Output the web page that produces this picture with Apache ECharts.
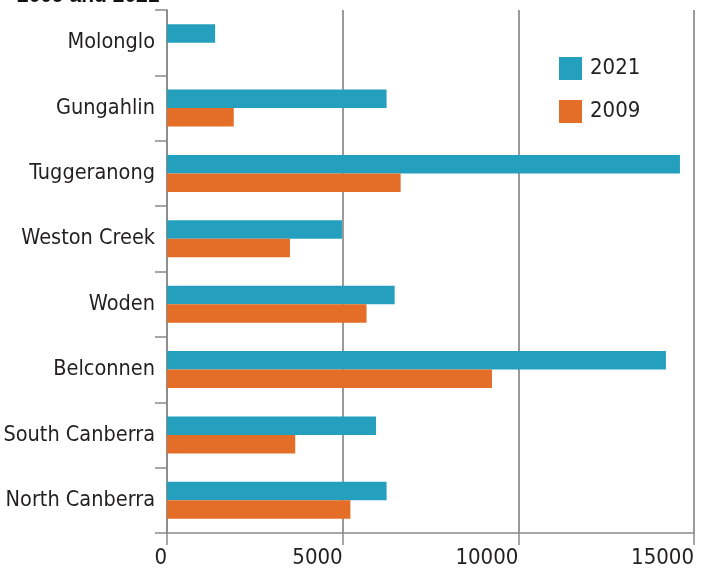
<!DOCTYPE html>
<html lang="en">

<head>
    <meta charset="UTF-8">
    <title>Districts 2009 and 2021</title>
    <script src="https://cdn.jsdelivr.net/npm/echarts@6/dist/echarts.min.js"></script>
    <style>
        body { margin: 0; background: #fff; }
    </style>
</head>

<body>
    <div id="chart" style="width: 705px; height: 572px;"></div>
    <script>
        // districts, top to bottom
        const districts = ['Molonglo', 'Gungahlin', 'Tuggeranong', 'Weston Creek', 'Woden', 'Belconnen', 'South Canberra', 'North Canberra'];
        const values2021 = [1370, 6250, 14600, 4980, 6480, 14200, 5950, 6250];
        const values2009 = [null, 1900, 6650, 3500, 5680, 9250, 3650, 5220];
        const xTicks = [0, 5000, 10000, 15000];

        const font = '"Liberation Sans Narrow", "DejaVu Sans Condensed", sans-serif';
        const gray = '#8a8a8a';

        const chart = echarts.init(document.getElementById('chart'));
        chart.setOption({
            backgroundColor: '#fff',
            animation: false,
            title: {
                text: '2009 and 2021',
                left: 12,
                top: -19,
                textStyle: { fontFamily: 'Liberation Sans, sans-serif', fontWeight: 'bold', fontSize: 21, color: '#111' }
            },
            legend: {
                orient: 'vertical',
                left: 554,
                top: 52,
                itemWidth: 23,
                itemHeight: 23,
                itemGap: 20,
                icon: 'rect',
                textStyle: { fontFamily: font, fontSize: 22, color: '#231f20', padding: [0, 0, 0, 3] },
                data: ['2021', '2009']
            },
            grid: { left: 167, right: 11, top: 10, bottom: 39, containLabel: false, outerBoundsMode: 'none' },
            xAxis: {
                type: 'value',
                min: xTicks[0],
                max: xTicks[xTicks.length - 1],
                interval: 5000,
                axisLine: { show: true, lineStyle: { color: gray, width: 1.5 } },
                axisTick: { show: true, length: 12, lineStyle: { color: gray, width: 1.5 } },
                splitLine: { show: true, lineStyle: { color: '#7a7a7a', width: 1.5 } },
                axisLabel: {
                    fontFamily: font, fontSize: 22, color: '#231f20', margin: 14, align: 'right',
                    formatter: v => String(v)
                }
            },
            yAxis: {
                type: 'category',
                inverse: true,
                data: districts,
                axisLine: { show: true, lineStyle: { color: gray, width: 1.5 } },
                axisTick: { show: true, length: 12, lineStyle: { color: gray, width: 1.5 } },
                axisLabel: { fontFamily: font, fontSize: 21.5, color: '#231f20', margin: 12 }
            },
            series: [
                {
                    name: '2021',
                    type: 'bar',
                    data: values2021,
                    barWidth: 18.5,
                    barGap: '0%',
                    itemStyle: { color: '#24a0be' }
                },
                {
                    name: '2009',
                    type: 'bar',
                    data: values2009,
                    barWidth: 18.5,
                    barGap: '0%',
                    itemStyle: { color: '#e46e27' }
                }
            ]
        });
    </script>
</body>

</html>
